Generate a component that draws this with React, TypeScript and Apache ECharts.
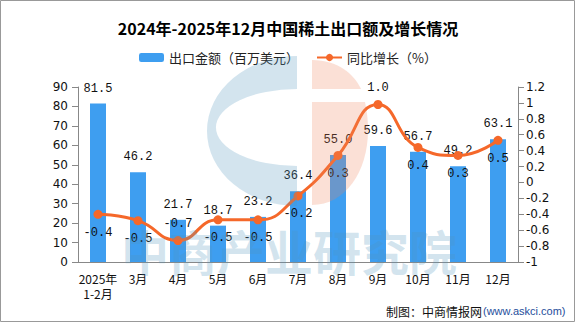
import React, { useEffect, useRef } from "react";
import * as echarts from "echarts";

const categories = ["2025年\n1-2月", "3月", "4月", "5月", "6月", "7月", "8月", "9月", "10月", "11月", "12月"];
const exportValues = [81.5, 46.2, 21.7, 18.7, 23.2, 36.4, 55.0, 59.6, 56.7, 49.2, 63.1];
const growthValues = [-0.40, -0.48, -0.73, -0.47, -0.47, -0.17, 0.34, 0.98, 0.44, 0.34, 0.53];
const leftTicks = { min: 0, max: 90, interval: 10 };
const rightTicks = { min: -1, max: 1.2, interval: 0.2 };
const labelsAbove = [2, 7];

const TITLE = "2024年-2025年12月中国稀土出口额及增长情况";
const BAR_NAME = "出口金额（百万美元）";
const LINE_NAME = "同比增长（%）";

const BLUE_D = "M297,56 A90,75 0 0,0 297,206 L297,166 A80,38 0 0,1 297,89 Z";
const ORANGE_TOP_D = "M312,60 C338,60 354,74 361,89 L312,89 Z";
const ORANGE_BOT_D = "M312,102 L365,102 C367,112 368,120 368,130 C368,172 345,205 312,205 Z";

let registered = false;
function registerLogo() {
  if (registered) return;
  registered = true;
  echarts.graphic.registerShape("logoBlue", echarts.graphic.extendPath(BLUE_D, {}));
  echarts.graphic.registerShape("logoOrangeTop", echarts.graphic.extendPath(ORANGE_TOP_D, {}));
  echarts.graphic.registerShape("logoOrangeBot", echarts.graphic.extendPath(ORANGE_BOT_D, {}));
}

export default function App() {
  const ref = useRef<HTMLDivElement>(null);
  useEffect(() => {
    registerLogo();
    const chart = echarts.init(ref.current!, undefined, { renderer: "svg" });
    const wmBlue = "rgba(80,148,188,0.25)";
    const wmOrange = "rgba(240,132,92,0.25)";
    chart.setOption({
      animation: false,
      backgroundColor: "#fff",
      title: {
        text: TITLE,
        left: "center",
        top: 15,
        textStyle: { fontSize: 16, fontWeight: "bold", color: "#000", fontFamily: "Noto Sans CJK SC" },
      },
      legend: {
        data: [BAR_NAME, LINE_NAME],
        left: "center",
        top: 46,
        itemWidth: 25,
        itemHeight: 9,
        itemGap: 17,
        textStyle: { fontSize: 13, color: "#222", fontFamily: "Noto Sans CJK SC" },
      },
      grid: { left: 78, right: 58, top: 87, bottom: 62, containLabel: false },
      xAxis: {
        type: "category",
        data: categories,
        axisLine: { lineStyle: { color: "#888" } },
        axisTick: { alignWithLabel: false, length: 5, lineStyle: { color: "#888" } },
        axisLabel: {
          interval: 0,
          margin: 9,
          fontSize: 12,
          lineHeight: 15,
          color: "#111",
          fontFamily: "Noto Sans CJK SC",
        },
      },
      yAxis: [
        {
          type: "value",
          min: leftTicks.min,
          max: leftTicks.max,
          interval: leftTicks.interval,
          splitLine: { show: false },
          axisLine: { show: true, lineStyle: { color: "#888" } },
          axisTick: { show: true, length: 6, lineStyle: { color: "#888" } },
          axisLabel: { margin: 10, fontSize: 12, color: "#111", fontFamily: "DejaVu Sans" },
        },
        {
          type: "value",
          min: rightTicks.min,
          max: rightTicks.max,
          interval: rightTicks.interval,
          position: "right",
          splitLine: { show: false },
          axisLine: { show: true, lineStyle: { color: "#888" } },
          axisTick: { show: true, length: 6, lineStyle: { color: "#888" } },
          axisLabel: {
            margin: 8,
            fontSize: 12,
            color: "#111",
            fontFamily: "DejaVu Sans",
            formatter: (v: number) => String(Math.round(v * 10) / 10),
          },
        },
      ],
      series: [
        {
          name: BAR_NAME,
          type: "bar",
          data: exportValues,
          barWidth: 16,
          itemStyle: { color: "#3e9ef0" },
          label: {
            show: true,
            position: "top",
            distance: 9,
            fontSize: 12,
            color: "#111",
            fontFamily: "Liberation Mono",
            formatter: (p: any) => Number(p.value).toFixed(1),
          },
        },
        {
          name: LINE_NAME,
          type: "line",
          yAxisIndex: 1,
          smooth: true,
          symbol: "circle",
          symbolSize: 9,
          lineStyle: { width: 3, color: "#f5682a" },
          itemStyle: { color: "#f5682a" },
          data: growthValues.map((v, i) => ({
            value: v,
            label: labelsAbove.includes(i)
              ? { position: "top", distance: 6 }
              : { position: "bottom", distance: 8 },
          })),
          label: {
            show: true,
            fontSize: 12,
            color: "#111",
            fontFamily: "Liberation Mono",
            formatter: (p: any) => Number(p.value).toFixed(1),
          },
        },
      ],
      graphic: [
        { type: "logoBlue", x: 0, y: 0, z: 50, silent: true, style: { fill: wmBlue } },
        { type: "logoOrangeTop", x: 0, y: 0, z: 50, silent: true, style: { fill: wmOrange } },
        { type: "logoOrangeBot", x: 0, y: 0, z: 50, silent: true, style: { fill: wmOrange } },
        {
          type: "text",
          x: 289,
          y: 250,
          z: 50,
          silent: true,
          style: {
            text: "中商产业研究院",
            fill: wmBlue,
            font: "bold 48px 'Noto Sans CJK SC'",
            align: "center",
            verticalAlign: "middle",
          },
        },
        {
          type: "text",
          x: 482,
          y: 311,
          z: 60,
          style: {
            text: "制图：中商情报网",
            fill: "#111",
            font: "12px 'Noto Sans CJK SC'",
            align: "right",
            verticalAlign: "middle",
          },
        },
        {
          type: "text",
          x: 483,
          y: 311,
          z: 60,
          style: {
            text: "(www.askci.com)",
            fill: "#1f4e9c",
            font: "11px 'Liberation Sans'",
            align: "left",
            verticalAlign: "middle",
          },
        },
        {
          type: "rect",
          z: 60,
          silent: true,
          shape: { x: 0.5, y: 0.5, width: 574, height: 321 },
          style: { fill: "none", stroke: "#999", lineWidth: 1 },
        },
      ],
    });
    return () => chart.dispose();
  }, []);
  return (
    <div
      ref={ref}
      style={{ position: "fixed", left: 0, top: 0, width: 576, height: 324 }}
    />
  );
}
